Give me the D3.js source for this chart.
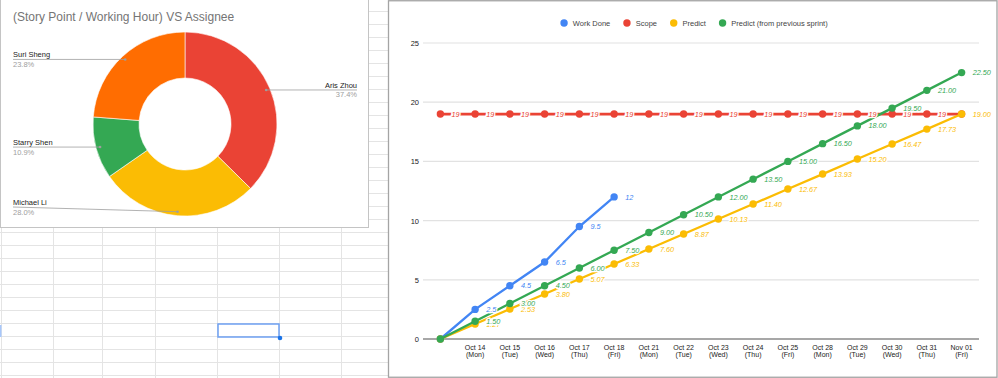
<!DOCTYPE html>
<html>
<head>
<meta charset="utf-8">
<script src="https://cdn.jsdelivr.net/npm/d3@7"></script>
<style>
    body { margin: 0; background: #fff; }
    svg { display: block; font-family: Arial, "Liberation Sans", sans-serif; }
</style>
</head>
<body>
<div id="chart"></div>
<script>
// Donut data
const assignees = ["Aris Zhou", "Michael Li", "Starry Shen", "Suri Sheng"];
const shares = [37.4, 28.0, 10.9, 23.8];
const sliceColors = ["#ea4335", "#fbbc04", "#34a853", "#ff6d01"];

// Burndown data
const dates = ["", "Oct 14", "Oct 15", "Oct 16", "Oct 17", "Oct 18", "Oct 21", "Oct 22", "Oct 23", "Oct 24", "Oct 25", "Oct 28", "Oct 29", "Oct 30", "Oct 31", "Nov 01"];
const weekdays = ["", "(Mon)", "(Tue)", "(Wed)", "(Thu)", "(Fri)", "(Mon)", "(Tue)", "(Wed)", "(Thu)", "(Fri)", "(Mon)", "(Tue)", "(Wed)", "(Thu)", "(Fri)"];
const workDone = [0, 2.5, 4.5, 6.5, 9.5, 12];
const scope = [19, 19, 19, 19, 19, 19, 19, 19, 19, 19, 19, 19, 19, 19, 19, 19];
const predict = [0, 1.27, 2.53, 3.80, 5.07, 6.33, 7.60, 8.87, 10.13, 11.40, 12.67, 13.93, 15.20, 16.47, 17.73, 19.00];
const predictPrev = [0, 1.5, 3.0, 4.5, 6.0, 7.5, 9.0, 10.5, 12.0, 13.5, 15.0, 16.5, 18.0, 19.5, 21.0, 22.5];
const yTicks = [0, 5, 10, 15, 20, 25];

const series = [
    { name: "Work Done", values: workDone, color: "#4285f4", decimals: null },
    { name: "Scope", values: scope, color: "#ea4335", decimals: null },
    { name: "Predict", values: predict, color: "#fbbc04", decimals: 2 },
    { name: "Predict (from previous sprint)", values: predictPrev, color: "#34a853", decimals: 2 }
];

const svg = d3.select("#chart")
    .append("svg")
    .attr("width", 998)
    .attr("height", 378);

// ---------- spreadsheet background ----------
const sheet = svg.append("g");
const rowLines = d3.range(11.5, 378, 13);
const colLines = [1.5, 53.5, 102.5, 155.5, 217.5, 279.5, 341.5];

sheet.selectAll(".row-line")
    .data(rowLines)
    .enter().append("line")
    .attr("x1", 0).attr("x2", 390)
    .attr("y1", d => d).attr("y2", d => d)
    .attr("stroke", "#e4e4e4");

sheet.selectAll(".col-line")
    .data(colLines)
    .enter().append("line")
    .attr("x1", d => d).attr("x2", d => d)
    .attr("y1", 0).attr("y2", 378)
    .attr("stroke", "#e4e4e4");

// selected cell
sheet.append("rect")
    .attr("x", 218).attr("y", 324)
    .attr("width", 61).attr("height", 13)
    .attr("fill", "none")
    .attr("stroke", "#6ea0f2")
    .attr("stroke-width", 1.5);
sheet.append("circle")
    .attr("cx", 280).attr("cy", 338).attr("r", 2.3)
    .attr("fill", "#1a73e8");
sheet.append("rect")
    .attr("x", 0).attr("y", 325).attr("width", 1.5).attr("height", 12)
    .attr("fill", "#a8c7fa");

// ---------- donut card ----------
const card = svg.append("g");
card.append("rect")
    .attr("x", 0.5).attr("y", -1)
    .attr("width", 368).attr("height", 228.5)
    .attr("fill", "#fff")
    .attr("stroke", "#c4c4c4");

card.append("text")
    .attr("x", 13).attr("y", 21)
    .style("font-size", "12px")
    .style("fill", "#757575")
    .text("(Story Point / Working Hour) VS Assignee");

const cx = 185, cy = 124, outerR = 92, innerR = 46;

const pie = d3.pie().sort(null).value(d => d)(shares);
const arc = d3.arc().innerRadius(innerR).outerRadius(outerR);
const labelArc = d3.arc().innerRadius(88).outerRadius(88);

const donut = card.append("g").attr("transform", `translate(${cx},${cy})`);
donut.selectAll(".slice")
    .data(pie)
    .enter().append("path")
    .attr("d", arc)
    .attr("fill", (d, i) => sliceColors[i])
    .attr("stroke", "#fff")
    .attr("stroke-width", 0.6);

// leader lines + labels
pie.forEach((d, i) => {
    const [px, py] = labelArc.centroid(d);
    const dotX = cx + px, dotY = cy + py;
    const right = px > 0;
    const lx = right ? 357 : 13;
    const ly = Math.min(dotY, 207);

    card.append("line")
        .attr("x1", lx).attr("y1", ly)
        .attr("x2", dotX).attr("y2", dotY)
        .attr("stroke", "#9e9e9e")
        .attr("stroke-width", 0.8);
    card.append("circle")
        .attr("cx", dotX).attr("cy", dotY).attr("r", 1.3)
        .attr("fill", "#9e9e9e");

    card.append("text")
        .attr("x", lx).attr("y", ly - 2)
        .attr("text-anchor", right ? "end" : "start")
        .style("font-size", "7.5px")
        .style("fill", "#222")
        .text(assignees[i]);
    card.append("text")
        .attr("x", lx).attr("y", ly + 7.5)
        .attr("text-anchor", right ? "end" : "start")
        .style("font-size", "7.5px")
        .style("fill", "#9e9e9e")
        .text(shares[i].toFixed(1) + "%");
});

// ---------- burndown panel ----------
svg.append("rect")
    .attr("x", 388.5).attr("y", 0.75)
    .attr("width", 608.5).attr("height", 376.5)
    .attr("fill", "#fff")
    .attr("stroke", "#a4a4a4")
    .attr("stroke-width", 1.3);

const chart = svg.append("g");

const x = d3.scalePoint()
    .domain(d3.range(dates.length))
    .range([423, 979])
    .padding(0.5);

const y = d3.scaleLinear()
    .domain([0, 25])
    .range([339, 43]);

// gridlines
chart.selectAll(".grid")
    .data(yTicks.filter(t => t > 0))
    .enter().append("line")
    .attr("x1", 423).attr("x2", 979)
    .attr("y1", d => y(d)).attr("y2", d => y(d))
    .attr("stroke", "#e2e2e2")
    .attr("stroke-width", 1.2);

// y axis labels
const yAxis = d3.axisLeft(y).tickValues(yTicks).tickSize(0).tickPadding(4);
chart.append("g")
    .attr("transform", "translate(423,0)")
    .call(yAxis)
    .call(g => g.select(".domain").remove())
    .call(g => g.selectAll("text")
        .style("font-size", "7.5px")
        .style("fill", "#222")
        .style("font-family", "Arial, 'Liberation Sans', sans-serif"));

// baseline
chart.append("line")
    .attr("x1", 423).attr("x2", 979)
    .attr("y1", y(0)).attr("y2", y(0))
    .attr("stroke", "#8a8a8a")
    .attr("stroke-width", 1.5);

// x axis labels (two lines)
const xLabels = chart.selectAll(".x-label")
    .data(d3.range(dates.length).filter(i => dates[i] !== ""))
    .enter().append("text")
    .attr("text-anchor", "middle")
    .style("font-size", "7px")
    .style("fill", "#222");
xLabels.append("tspan")
    .attr("x", i => x(i)).attr("y", 349.5)
    .text(i => dates[i]);
xLabels.append("tspan")
    .attr("x", i => x(i)).attr("y", 357)
    .text(i => weekdays[i]);

// lines and points
const line = d3.line()
    .x((d, i) => x(i))
    .y(d => y(d));

series.forEach(s => {
    chart.append("path")
        .datum(s.values)
        .attr("d", line)
        .attr("fill", "none")
        .attr("stroke", s.color)
        .attr("stroke-width", s.name === "Scope" ? 2.8 : 2.3);

    chart.selectAll(null)
        .data(s.values)
        .enter().append("circle")
        .attr("cx", (d, i) => x(i))
        .attr("cy", d => y(d))
        .attr("r", 3.7)
        .attr("fill", s.color);
});

// data labels (a label hidden when a later series sits on the same point)
series.forEach((s, si) => {
    const shown = s.values
        .map((v, i) => ({ v, i }))
        .filter(d => d.v !== 0)
        .filter(d => !series.slice(si + 1).some(o => o.values[d.i] === d.v));

    chart.selectAll(null)
        .data(shown)
        .enter().append("text")
        .attr("x", d => x(d.i) + 11)
        .attr("y", d => y(d.v) + 2.6)
        .style("font-size", "7.3px")
        .style("font-style", "italic")
        .style("fill", s.color)
        .style("stroke", "#fff")
        .style("stroke-width", 2.5)
        .style("paint-order", "stroke")
        .text(d => s.decimals === null ? String(d.v) : d.v.toFixed(s.decimals));
});

// legend
const legend = chart.append("g");
let lx = 0;
series.forEach(s => {
    const item = legend.append("g").attr("transform", `translate(${lx},0)`);
    item.append("circle").attr("cx", 3.7).attr("cy", 0).attr("r", 3.7).attr("fill", s.color);
    const t = item.append("text")
        .attr("x", 12.5).attr("y", 2.6)
        .style("font-size", "7.5px")
        .style("fill", "#444")
        .text(s.name);
    lx += 12.5 + t.node().getComputedTextLength() + 13;
});
const legendWidth = lx - 13;
legend.attr("transform", `translate(${694 - legendWidth / 2},23)`);
</script>
</body>
</html>
